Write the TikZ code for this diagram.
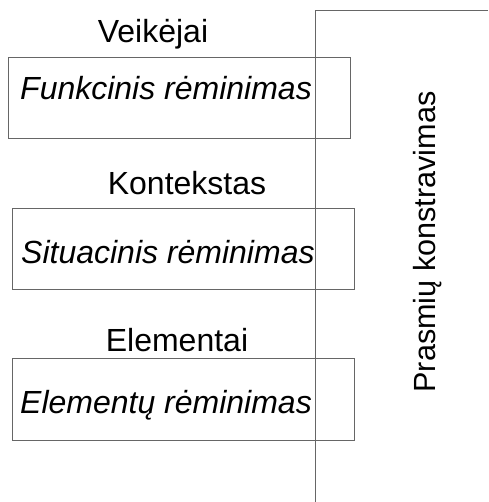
\documentclass[tikz,border=0pt]{standalone}
\usepackage{fontspec}
\setmainfont{Liberation Sans}
\begin{document}
\begin{tikzpicture}[x=1pt,y=-1pt,
  frame/.style={draw=black!60, line width=1pt, inner sep=0pt, anchor=north west},
  label/.style={font=\fontsize{32}{38}\selectfont, inner sep=0pt},
  boxtext/.style={font=\fontsize{32}{38}\selectfont\itshape, inner sep=0pt, anchor=base west},
  axis/.style={draw=black!60, line width=1pt}]
\useasboundingbox (0,0) rectangle (488,502);
% boxes
\node[frame, minimum width=342pt, minimum height=81pt] (b1) at (8,57) {};
\node[frame, minimum width=342pt, minimum height=81pt] (b2) at (12,208) {};
\node[frame, minimum width=342pt, minimum height=82pt] (b3) at (12,358) {};
% axis line
\coordinate (top) at (315,11);
\coordinate (topr) at (488,11);
\coordinate (bot) at (315,502);
\draw[axis] (topr) -- (top) -- (bot);
% labels
\node[label, anchor=base] (l1) at (153,43) {Veikėjai};
\node[label, anchor=base] (l2) at (187,195) {Kontekstas};
\node[label, anchor=base] (l3) at (177,351) {Elementai};
\node[boxtext] (t1) at (20,100) {Funkcinis rėminimas};
\node[boxtext] (t2) at (21,263) {Situacinis rėminimas};
\node[boxtext] (t3) at (20,413) {Elementų rėminimas};
\node[label, font=\fontsize{30.6}{36}\selectfont, rotate=90, anchor=base] (p) at (435,242) {Prasmių konstravimas};
\end{tikzpicture}
\end{document}
